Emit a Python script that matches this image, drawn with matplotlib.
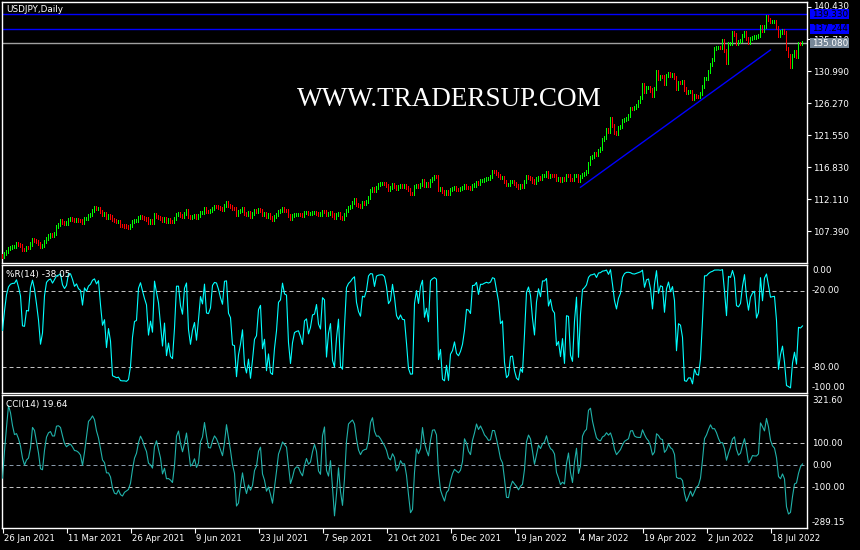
import numpy as np
import pandas as pd
import matplotlib
matplotlib.use("Agg")
import matplotlib.pyplot as plt
from matplotlib import transforms
from matplotlib.patches import Rectangle

# ---------------- data ----------------
start_date = "2021-01-26"
end_date = "2022-08-09"
symbol_title = "USDJPY,Daily"
wr_title = "%R(14) -38.05"
cci_title = "CCI(14) 19.64"
watermark = "WWW.TRADERSUP.COM"

# closes before the first visible bar (indicator warm-up only)
warmup_open = 103.05
warmup_closes = [103.82, 103.94, 104.25, 103.76, 103.89, 103.87, 103.86, 103.71,
                 103.87, 103.53, 103.51, 103.78, 103.76]

close_2021_01 = [103.63, 104.07, 104.24, 104.68]
close_2021_02 = [104.93, 105.02, 105.04, 105.54, 105.39, 105.21, 104.59, 104.58, 104.95, 104.94,
                 105.40, 106.03, 105.88, 105.71, 105.45, 105.06, 105.24, 105.84, 106.22, 106.58]
close_2021_03 = [106.77, 106.68, 107.01, 107.98, 108.33, 108.90, 108.52, 108.39, 108.50, 109.02,
                 109.13, 109.00, 108.85, 108.97, 108.87, 108.83, 108.58, 109.12, 109.20, 109.63,
                 109.80, 110.35, 110.72]
close_2021_04 = [110.62, 110.69, 110.17, 109.73, 109.85, 109.25, 109.66, 109.39, 109.07, 108.93,
                 108.77, 108.78, 108.16, 108.09, 108.06, 107.93, 107.88, 108.11, 108.70, 108.91,
                 108.93, 109.31]
close_2021_05 = [109.47, 109.33, 109.20, 109.09, 108.57, 108.81, 108.62, 109.69, 109.48, 109.35,
                 109.20, 108.90, 109.21, 108.77, 108.94, 108.76, 108.73, 109.14, 109.80, 109.85,
                 109.57]
close_2021_06 = [109.49, 109.84, 110.29, 109.50, 109.25, 109.49, 109.62, 109.32, 109.67, 110.06,
                 110.06, 110.68, 110.22, 110.21, 110.30, 110.66, 110.88, 110.87, 110.76, 110.63,
                 110.52, 111.11]
close_2021_07 = [111.53, 111.05, 110.98, 110.63, 110.62, 109.74, 110.15, 110.35, 110.62, 109.97,
                 109.81, 110.07, 109.48, 109.86, 110.29, 110.15, 110.55, 110.38, 109.78, 109.91,
                 109.48, 109.71]
close_2021_08 = [109.30, 109.05, 109.48, 109.77, 110.24, 110.28, 110.59, 110.41, 110.39, 109.59,
                 109.24, 109.59, 109.76, 109.78, 109.79, 109.69, 109.68, 110.04, 110.07, 109.84,
                 109.94, 110.02]
close_2021_09 = [110.02, 109.93, 109.71, 109.83, 110.26, 110.24, 109.71, 109.93, 110.02, 109.68,
                 109.37, 109.71, 109.93, 109.38, 109.23, 109.78, 110.34, 110.74, 110.99, 111.51,
                 111.96, 111.29]
close_2021_10 = [111.05, 110.93, 111.45, 111.43, 111.61, 112.22, 113.26, 113.60, 113.26, 113.68,
                 114.21, 114.34, 114.38, 114.32, 114.00, 113.46, 113.70, 114.15, 113.83, 113.59,
                 113.95]
close_2021_11 = [114.01, 113.95, 114.03, 113.75, 113.40, 112.92, 112.88, 113.89, 114.08, 113.89,
                 114.14, 114.83, 114.09, 114.27, 114.00, 114.82, 115.13, 115.40, 115.36, 113.39,
                 113.64, 113.16]
close_2021_12 = [112.79, 113.18, 112.80, 113.46, 113.55, 113.77, 113.48, 113.42, 113.53, 113.71,
                 114.04, 113.70, 113.69, 113.64, 114.08, 114.11, 114.44, 114.37, 114.83, 114.83,
                 114.96, 115.07, 115.08]
close_2022_01 = [115.32, 116.12, 116.10, 115.83, 115.55, 115.21, 115.28, 114.63, 114.18, 114.23,
                 114.60, 114.61, 114.32, 114.09, 113.70, 113.97, 113.88, 114.65, 115.33, 115.25,
                 115.10]
close_2022_02 = [114.70, 114.41, 114.99, 115.22, 115.08, 115.54, 115.54, 116.00, 115.43, 115.57,
                 115.53, 115.48, 114.92, 114.99, 114.73, 115.04, 114.86, 115.56, 115.55, 114.98]
close_2022_03 = [114.89, 115.48, 115.51, 114.83, 115.31, 115.70, 115.84, 116.08, 117.30, 118.16,
                 118.31, 118.73, 118.60, 119.16, 119.45, 120.80, 121.16, 122.29, 122.05, 123.85,
                 122.86, 121.83, 121.70]
close_2022_04 = [122.52, 122.80, 123.59, 123.77, 123.97, 124.33, 125.37, 125.35, 125.48, 125.88,
                 126.40, 126.95, 128.92, 127.87, 128.42, 128.50, 128.12, 127.25, 128.40, 130.84,
                 129.80]
close_2022_05 = [130.16, 130.14, 129.09, 130.21, 130.55, 130.27, 130.44, 129.98, 128.33, 129.22,
                 129.17, 129.38, 128.26, 127.79, 127.88, 127.88, 126.83, 127.33, 127.15, 127.11,
                 127.64, 128.67]
close_2022_06 = [129.85, 129.88, 130.88, 131.89, 132.62, 134.25, 134.37, 134.41, 134.39, 135.44,
                 133.93, 132.21, 135.01, 135.04, 136.66, 136.24, 134.94, 135.21, 135.45, 136.13,
                 136.59, 135.72]
close_2022_07 = [135.18, 135.70, 135.86, 135.93, 136.00, 136.10, 137.43, 136.87, 137.42, 138.97,
                 138.56, 138.17, 138.19, 138.20, 137.37, 136.11, 136.67, 136.96, 136.55, 134.25,
                 133.27]
close_2022_08 = [131.61, 133.16, 133.84, 133.00, 135.00, 134.96, 135.08]

price_ticks = [140.430, 135.710, 130.990, 126.270, 121.550, 116.830, 112.110, 107.390]
blue_levels = [139.330, 137.244]
bid_price = 135.080
trend_dates = ["2022-03-07", "2022-07-18"]
trend_prices = [113.85, 134.10]

wr_levels = [-20.0, -80.0]
wr_labels = [0.0, -20.0, -80.0, -100.0]
cci_levels = [100.0, -100.0]
cci_zero = 0.0
cci_labels = [321.60, 100.0, 0.0, -100.0, -289.15]

x_tick_labels = ["26 Jan 2021", "11 Mar 2021", "26 Apr 2021", "9 Jun 2021", "23 Jul 2021",
                 "7 Sep 2021", "21 Oct 2021", "6 Dec 2021", "19 Jan 2022", "4 Mar 2022",
                 "19 Apr 2022", "2 Jun 2022", "18 Jul 2022"]

# ---------------- derived series ----------------
months = [close_2021_01, close_2021_02, close_2021_03, close_2021_04, close_2021_05,
          close_2021_06, close_2021_07, close_2021_08, close_2021_09, close_2021_10,
          close_2021_11, close_2021_12, close_2022_01, close_2022_02, close_2022_03,
          close_2022_04, close_2022_05, close_2022_06, close_2022_07, close_2022_08]
closes_vis = [c for m in months for c in m]
n = len(closes_vis)
nw = len(warmup_closes)
all_close = np.array(warmup_closes + closes_vis, dtype=float)
all_open = np.concatenate([[warmup_open], all_close[:-1]])
WICK = 0.3
all_high = np.maximum(all_open, all_close) + WICK
all_low = np.minimum(all_open, all_close) - WICK

hh = pd.Series(all_high).rolling(14, min_periods=1).max().values
ll = pd.Series(all_low).rolling(14, min_periods=1).min().values
wr_all = -100.0 * (hh - all_close) / (hh - ll)
tp = pd.Series((all_high + all_low + all_close) / 3.0)
sma = tp.rolling(14, min_periods=1).mean()
md = tp.rolling(14, min_periods=1).apply(lambda w: np.mean(np.abs(w - w.mean())), raw=True)
cci_all = ((tp - sma) / (0.015 * md)).values

o = all_open[nw:]
c = all_close[nw:]
hi = all_high[nw:]
lo = all_low[nw:]
wr = wr_all[nw:]
cci = cci_all[nw:]
x = np.arange(n)

dates = pd.bdate_range(start_date, end_date)[:n]
date_index = {d.strftime("%Y-%m-%d"): i for i, d in enumerate(dates)}

# ---------------- figure ----------------
W, H = 860, 550
fig = plt.figure(figsize=(W / 100, H / 100), dpi=100, facecolor="black")


def box(l, t, r, b):
    return [l / W, 1 - b / H, (r - l) / W, (b - t) / H]


LEFT, RIGHT = 2, 807
ax1 = fig.add_axes(box(LEFT, 2, RIGHT, 262.7))
ax2 = fig.add_axes(box(LEFT, 265.3, RIGHT, 392.7))
ax3 = fig.add_axes(box(LEFT, 395, RIGHT, 528.3))
panels = [(ax1, 2, 262.7), (ax2, 265.3, 392.7), (ax3, 395, 528.3)]

for ax, _, _ in panels:
    ax.set_facecolor("black")
    for s in ax.spines.values():
        s.set_color("white")
        s.set_linewidth(1.0)
    ax.set_xlim(-0.25, 402.25)
    ax.tick_params(left=False, labelleft=False, bottom=False, labelbottom=False,
                   right=False, labelright=False)

LW = 0.72
DASH = (0, (4, 3))

# ---- price panel ----
ax1.set_ylim(102.72, 141.17)
up = c >= o
cols = np.where(up, "#00FF00", "#FF0000")
ax1.bar(x, hi - lo, bottom=lo, width=0.5, color=cols, linewidth=0,
        antialiased=False, zorder=3)

for lv in blue_levels:
    ax1.axhline(lv, color="#0000FF", linewidth=1.0, zorder=2)
ax1.axhline(bid_price, color="#A0A0A0", linewidth=1.0, zorder=2)
tx = [date_index[d] for d in trend_dates]
ax1.plot(tx, trend_prices, color="#0000FF", linewidth=1.0, zorder=4)

ax1.yaxis.tick_right()
ax1.set_yticks(price_ticks)
ax1.set_yticklabels([f"{v:.3f}" for v in price_ticks])
ax1.tick_params(axis="y", right=True, labelright=True, direction="out", length=3.2,
                width=0.8, colors="white", labelsize=6.3, pad=1.2)
# MT keeps the top label inside the window
up_shift = transforms.ScaledTranslation(0, 1.5 / 100, fig.dpi_scale_trans)
ax1.get_yticklabels()[0].set_transform(ax1.get_yticklabels()[0].get_transform() + up_shift)

fig.text(6.7 / W, 1 - 11.8 / H, symbol_title, color="white", fontsize=6.4,
         va="baseline", ha="left", family="DejaVu Sans")
fig.text(449.5 / W, 1 - 106 / H, watermark, color="white", fontsize=19.5,
         family="Liberation Serif", ha="center", va="baseline")


def fig_y(ax, v):
    return fig.transFigure.inverted().transform(ax.transData.transform((0, v)))[1]


box_specs = [(blue_levels[0], "#0000FF", "black"),
             (blue_levels[1], "#0000FF", "black"),
             (bid_price, "#778899", "white")]
for val, bg, fg in box_specs:
    yc = fig_y(ax1, val)
    hpx = 10.0
    fig.patches.append(Rectangle((810 / W, yc - hpx / 2 / H), 39 / W, hpx / H,
                                 transform=fig.transFigure, facecolor=bg,
                                 edgecolor="none", zorder=5))
    fig.text(812.5 / W, yc, f"{val:.3f}", color=fg, fontsize=6.3, va="center",
             ha="left", zorder=6)

# ---- %R panel ----
ax2.set_ylim(-100, 0)
for lv in wr_levels:
    ax2.axhline(lv, color="#C0C0C0", linewidth=LW, linestyle=DASH, zorder=2)
ax2.plot(x, wr, color="#00FFFF", linewidth=0.8, zorder=3)
fig.text(6 / W, 1 - 277.5 / H, wr_title, color="white", fontsize=6.4,
         va="baseline", ha="left")

# ---- CCI panel ----
ax3.set_ylim(cci_labels[-1], cci_labels[0])
for lv in cci_levels:
    ax3.axhline(lv, color="#C0C0C0", linewidth=LW, linestyle=DASH, zorder=2)
ax3.axhline(cci_zero, color="#8899AA", linewidth=LW, linestyle=DASH, zorder=2)
ax3.plot(x, np.clip(cci, cci_labels[-1], cci_labels[0]), color="#20B2AA",
         linewidth=0.8, zorder=3)
fig.text(6 / W, 1 - 407.5 / H, cci_title, color="white", fontsize=6.4,
         va="baseline", ha="left")


def side_labels(ax, top, bottom, values):
    for v in values:
        ypx = H - fig_y(ax, v) * H
        ypx = min(max(ypx, top + 5.4), bottom - 5.4)
        fig.text(812 / W, 1 - ypx / H, f"{v:.2f}", color="white", fontsize=6.3,
                 va="center", ha="left")


side_labels(ax2, 265.3, 392.7, wr_labels)
side_labels(ax3, 395, 528.3, cci_labels)

# ---- x axis ----
tick_pos = [list(dates).index(pd.Timestamp(pd.to_datetime(s, format="%d %b %Y")))
            for s in x_tick_labels]
ax3.set_xticks(tick_pos)
ax3.set_xticklabels(x_tick_labels)
ax3.tick_params(axis="x", bottom=True, labelbottom=True, direction="out", length=3.4,
                width=0.8, colors="white", labelsize=6.1, pad=0.6)
shift = transforms.ScaledTranslation(1.5 / 100, 0, fig.dpi_scale_trans)
for lab in ax3.get_xticklabels():
    lab.set_horizontalalignment("left")
    lab.set_transform(lab.get_transform() + shift)

fig.savefig("out.png", dpi=100, facecolor="black")
